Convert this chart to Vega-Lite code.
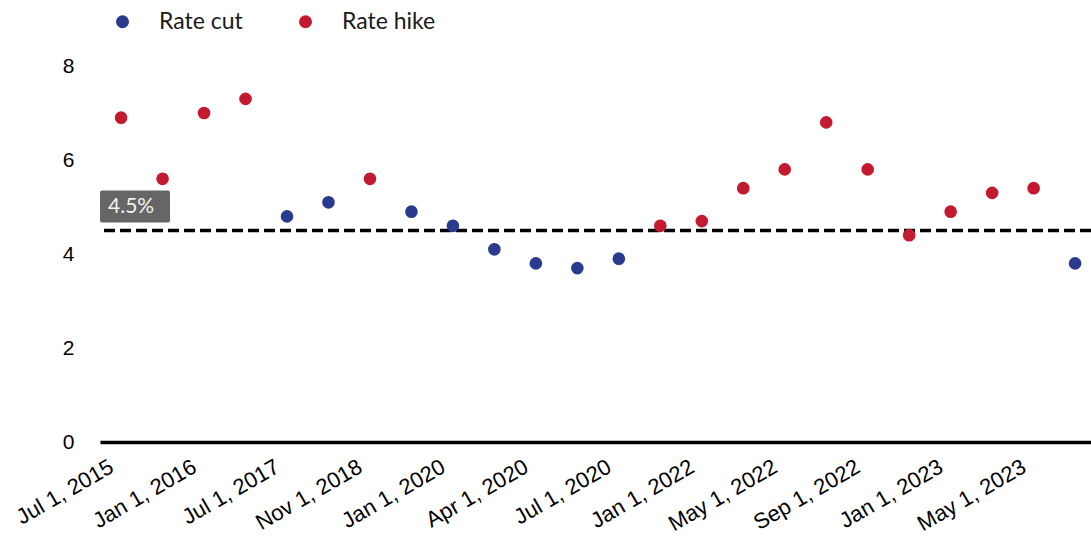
{
  "$schema": "https://vega.github.io/schema/vega-lite/v6.json",
  "width": 991,
  "height": 376,
  "autosize": "none",
  "padding": {"left": 100, "top": 66, "right": 0, "bottom": 102},
  "background": "#ffffff",
  "config": {
    "view": {"stroke": null}
  },
  "datasets": {
    "events": [
      {"event": 1, "rate": 6.9, "type": "Rate hike"},
      {"event": 2, "rate": 5.6, "type": "Rate hike"},
      {"event": 3, "rate": 7.0, "type": "Rate hike"},
      {"event": 4, "rate": 7.3, "type": "Rate hike"},
      {"event": 5, "rate": 4.8, "type": "Rate cut"},
      {"event": 6, "rate": 5.1, "type": "Rate cut"},
      {"event": 7, "rate": 5.6, "type": "Rate hike"},
      {"event": 8, "rate": 4.9, "type": "Rate cut"},
      {"event": 9, "rate": 4.6, "type": "Rate cut"},
      {"event": 10, "rate": 4.1, "type": "Rate cut"},
      {"event": 11, "rate": 3.8, "type": "Rate cut"},
      {"event": 12, "rate": 3.7, "type": "Rate cut"},
      {"event": 13, "rate": 3.9, "type": "Rate cut"},
      {"event": 14, "rate": 4.6, "type": "Rate hike"},
      {"event": 15, "rate": 4.7, "type": "Rate hike"},
      {"event": 16, "rate": 5.4, "type": "Rate hike"},
      {"event": 17, "rate": 5.8, "type": "Rate hike"},
      {"event": 18, "rate": 6.8, "type": "Rate hike"},
      {"event": 19, "rate": 5.8, "type": "Rate hike"},
      {"event": 20, "rate": 4.4, "type": "Rate hike"},
      {"event": 21, "rate": 4.9, "type": "Rate hike"},
      {"event": 22, "rate": 5.3, "type": "Rate hike"},
      {"event": 23, "rate": 5.4, "type": "Rate hike"},
      {"event": 24, "rate": 3.8, "type": "Rate cut"}
    ],
    "threshold": [
      {"level": 4.5, "label": "4.5%"}
    ]
  },
  "layer": [
    {
      "data": {"name": "threshold"},
      "mark": {"type": "rule", "color": "#000000", "strokeWidth": 3.5, "strokeDash": [11, 5]},
      "encoding": {
        "y": {
          "field": "level",
          "type": "quantitative",
          "scale": {"domain": [0, 8], "nice": false},
          "axis": {
            "values": [0, 2, 4, 6, 8],
            "domain": false,
            "ticks": false,
            "grid": false,
            "labelFont": "Liberation Sans",
            "labelFontSize": 21,
            "labelColor": "#000000",
            "labelPadding": 26,
            "title": null
          }
        }
      }
    },
    {
      "data": {"name": "threshold"},
      "mark": {"type": "rect", "color": "#666666", "cornerRadius": 2, "yOffset": -8, "y2Offset": -40},
      "encoding": {
        "x": {"value": 0},
        "x2": {"value": 70},
        "y": {"field": "level", "type": "quantitative"},
        "y2": {"field": "level"}
      }
    },
    {
      "data": {"name": "threshold"},
      "mark": {"type": "text", "align": "left", "baseline": "middle", "font": "Lato", "fontSize": 21, "color": "#f2f2f2", "yOffset": -24},
      "encoding": {
        "x": {"value": 8},
        "y": {"field": "level", "type": "quantitative"},
        "text": {"field": "label"}
      }
    },
    {
      "data": {"name": "events"},
      "mark": {"type": "circle", "size": 160, "opacity": 1},
      "encoding": {
        "x": {
          "field": "event",
          "type": "ordinal",
          "scale": {"type": "point", "padding": 0.446, "align": 0.57},
          "axis": {
            "values": [1, 3, 5, 7, 9, 11, 13, 15, 17, 19, 21, 23],
            "labelExpr": "['Jul 1, 2015', 'Jan 1, 2016', 'Jul 1, 2017', 'Nov 1, 2018', 'Jan 1, 2020', 'Apr 1, 2020', 'Jul 1, 2020', 'Jan 1, 2022', 'May 1, 2022', 'Sep 1, 2022', 'Jan 1, 2023', 'May 1, 2023'][(datum.value - 1) / 2]",
            "labelAngle": -30,
            "labelFont": "Liberation Sans",
            "labelFontSize": 22,
            "labelColor": "#000000",
            "labelPadding": 14,
            "labelOffset": -15,
            "labelOverlap": false,
            "ticks": false,
            "grid": false,
            "domain": true,
            "domainColor": "#000000",
            "domainWidth": 3.5,
            "title": null
          }
        },
        "y": {"field": "rate", "type": "quantitative"},
        "color": {
          "field": "type",
          "type": "nominal",
          "scale": {"domain": ["Rate cut", "Rate hike"], "range": ["#2a3a8f", "#c41a30"]},
          "legend": {
            "orient": "none",
            "legendX": 11,
            "legendY": -56,
            "direction": "horizontal",
            "title": null,
            "padding": 0,
            "symbolType": "circle",
            "symbolSize": 170,
            "symbolStrokeWidth": 0,
            "symbolOpacity": 1,
            "labelFont": "Lato",
            "labelFontSize": 23,
            "labelColor": "#1a1a1a",
            "labelOffset": 25,
            "columnPadding": 51
          }
        }
      }
    }
  ]
}
